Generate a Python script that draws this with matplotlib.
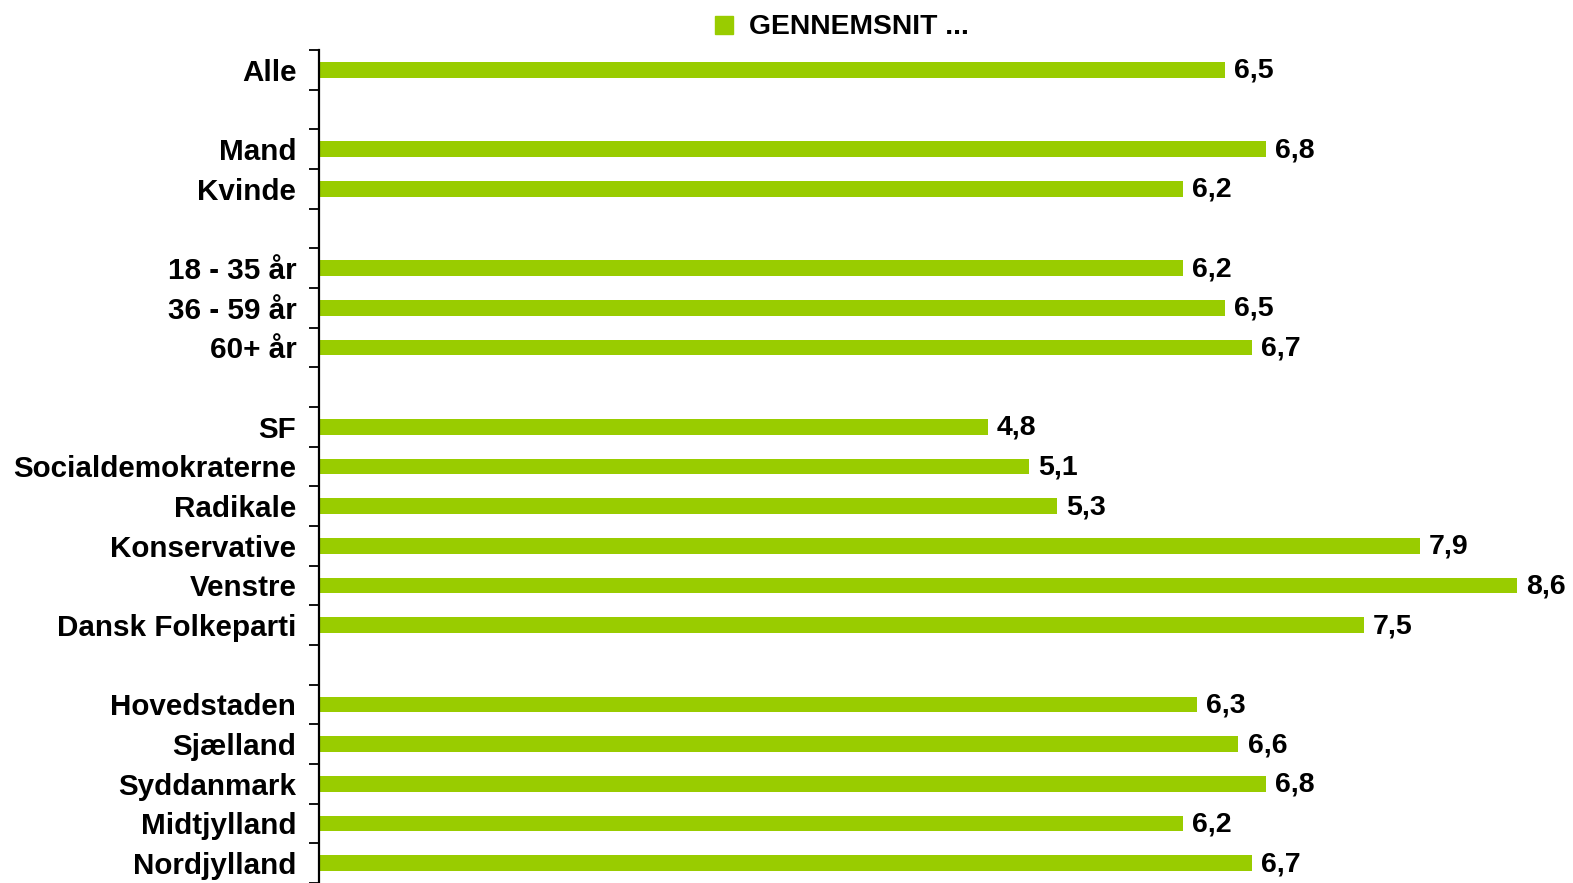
import numpy as np
import matplotlib
matplotlib.use('Agg')
import matplotlib.pyplot as plt
from matplotlib.lines import Line2D

# rows top to bottom, "" = blank spacer row
categories = ["Alle", "",
              "Mand", "Kvinde", "",
              "18 - 35 år", "36 - 59 år", "60+ år", "",
              "SF", "Socialdemokraterne", "Radikale", "Konservative", "Venstre", "Dansk Folkeparti", "",
              "Hovedstaden", "Sjælland", "Syddanmark", "Midtjylland", "Nordjylland"]
values = [6.5, None,
          6.8, 6.2, None,
          6.2, 6.5, 6.7, None,
          4.8, 5.1, 5.3, 7.9, 8.6, 7.5, None,
          6.3, 6.6, 6.8, 6.2, 6.7]
series_name = "GENNEMSNIT ..."

green = '#99CC00'
plt.rcParams['font.family'] = ['Liberation Sans', 'DejaVu Sans']
plt.rcParams['font.weight'] = 'bold'

fig = plt.figure(figsize=(15.73, 8.83), dpi=100)
ax = fig.add_axes([0.2025, 0.0, 0.7975, 0.9434])

y = np.arange(len(categories))
for yi, v in zip(y, values):
    if v is None:
        continue
    ax.barh(yi, v, height=0.4, color=green)
    ax.annotate(f"{v:.1f}".replace('.', ','), xy=(v, yi), xytext=(6.5, -0.8),
                textcoords='offset points', va='center', ha='left',
                fontsize=20.5, fontweight='bold')

ax.set_xlim(0, 9)
ax.set_ylim(len(categories) - 0.5, -0.5)

ax.set_yticks(y)
ax.set_yticklabels(categories, fontsize=21.3, fontweight='bold')
ax.set_yticks(np.arange(-0.5, len(categories) + 0.5), minor=True)
ax.tick_params(axis='y', which='major', length=0, pad=16)
ax.tick_params(axis='y', which='minor', length=7, width=1.3, direction='out')
ax.set_xticks([])

for s in ['top', 'right', 'bottom']:
    ax.spines[s].set_visible(False)
ax.spines['left'].set_linewidth(1.6)

handle = Line2D([], [], marker='s', linestyle='none', color=green, markersize=12.5)
fig.legend([handle], [series_name], loc='center', bbox_to_anchor=(0.5335, 0.969),
           frameon=False, handletextpad=0.4, handlelength=1.0, borderpad=0,
           prop={'weight': 'bold', 'size': 20.3})

fig.savefig('out.png', dpi=100)
